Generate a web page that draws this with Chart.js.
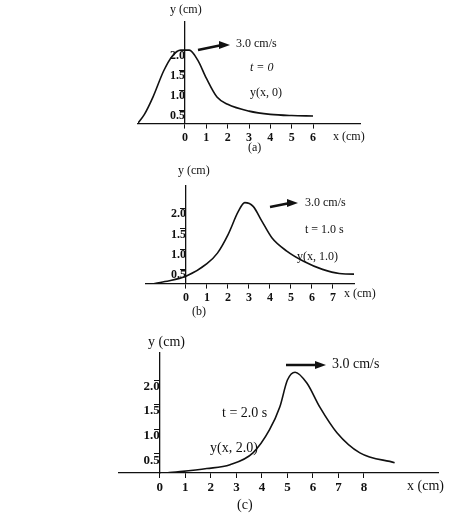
<!DOCTYPE html>
<html><head><meta charset="utf-8">
<script src="https://cdn.jsdelivr.net/npm/chart.js@4.4.0/dist/chart.umd.min.js"></script>
<style>
body{margin:0;background:#fff;width:474px;height:523px;position:relative;overflow:hidden}
canvas{position:absolute;left:0}
</style></head><body>
<canvas id="ca" style="top:0" width="474" height="160"></canvas>
<canvas id="cb" style="top:160px" width="474" height="160"></canvas>
<canvas id="cc" style="top:320px" width="474" height="203"></canvas>
<script>
// values
const pulseA = [[-2.25,0.15],[-1.9,0.4],[-1.5,0.83],[-1.0,1.48],[-0.6,1.85],[-0.2,2.0],[0.2,2.0],[0.6,1.75],[1.0,1.3],[1.5,0.83],[2.0,0.65],[3,0.48],[4,0.4],[5,0.37],[6,0.36]];
const pulseB = [[-1.8,0.12],[-1,0.2],[0,0.33],[1,0.64],[1.5,0.9],[2,1.35],[2.5,1.93],[2.8,2.14],[3.2,2.05],[3.6,1.7],[4.1,1.27],[4.8,0.95],[5.6,0.7],[6.5,0.5],[7.3,0.4],[8.5,0.38]];
const pulseC = [[0.27,0.11],[1.84,0.2],[2.75,0.28],[3.65,0.52],[4.3,0.99],[4.7,1.45],[5.0,2.0],[5.3,2.16],[5.76,1.94],[6.27,1.45],[6.94,0.93],[7.84,0.52],[9.2,0.32]];
const yTicks = [0.5, 1.0, 1.5, 2.0];
const xTicksA = [0,1,2,3,4,5,6];
const xTicksB = [0,1,2,3,4,5,6,7];
const xTicksC = [0,1,2,3,4,5,6,7,8];

const SERIF = '12px "Liberation Serif", serif';

function makePanel(id, pts, xTicks, cfg) {
  const textPlugin = {
    id: 'notes',
    afterDraw(chart) {
      const c = chart.ctx;
      c.save();
      c.fillStyle = '#111';
      c.textBaseline = 'middle';
      cfg.texts.forEach(t => { c.font = t[3] || SERIF; c.fillText(t[0], t[1], t[2]); });
      const a = cfg.arrow;
      c.strokeStyle = '#111'; c.lineWidth = 2.5;
      c.beginPath(); c.moveTo(a[0], a[1]); c.lineTo(a[2] - 8, a[3]); c.stroke();
      c.beginPath(); c.moveTo(a[2], a[3]); c.lineTo(a[2] - 11, a[3] - 4); c.lineTo(a[2] - 11, a[3] + 4); c.closePath(); c.fill();
      c.restore();
    }
  };
  return new Chart(document.getElementById(id), {
    type: 'line',
    data: { datasets: [{ data: pts.map(p => ({x: p[0], y: p[1]})), borderColor: '#111', borderWidth: 1.6, pointRadius: 0, tension: 0.4, cubicInterpolationMode: 'monotone' }] },
    options: {
      responsive: false, animation: false,
      layout: { padding: cfg.pad },
      plugins: { legend: { display: false }, tooltip: { enabled: false } },
      scales: {
        x: {
          type: 'linear', position: 'bottom', min: cfg.x[0], max: cfg.x[1],
          afterBuildTicks: s => { s.ticks = xTicks.map(v => ({value: v})); },
          afterFit: s => { s.height = 22; },
          ticks: { color: '#111', font: { family: 'Liberation Serif', size: cfg.fs, weight: 'bold' }, padding: 2 },
          grid: { drawOnChartArea: false, drawTicks: true, tickLength: 5, color: '#111' },
          border: { color: '#111', width: 1.3 }
        },
        y: {
          type: 'linear', position: { x: 0 }, min: cfg.y[0], max: cfg.y[1],
          afterBuildTicks: s => { s.ticks = yTicks.map(v => ({value: v})); },
          ticks: { color: '#111', font: { family: 'Liberation Serif', size: cfg.fs, weight: 'bold' }, callback: v => v.toFixed(1), padding: 22, align: 'start' },
          grid: { drawOnChartArea: false, drawTicks: true, tickLength: 5, color: '#111' },
          border: { color: '#111', width: 1.3 }
        }
      }
    },
    plugins: [textPlugin]
  });
}

makePanel('ca', pulseA, xTicksA, {
  fs: 12, pad: { left: 138, right: 114, top: 19, bottom: 13 }, x: [-2.2, 8.2], y: [0.17, 2.7],
  texts: [['y (cm)', 170, 10], ['3.0 cm/s', 236, 44], ['t = 0', 250, 68, 'italic ' + SERIF], ['y(x, 0)', 250, 93], ['x (cm)', 333, 137], ['(a)', 248, 148]],
  arrow: [198, 50, 230, 45]
});
makePanel('cb', pulseB, xTicksB, {
  fs: 12, pad: { left: 146, right: 120, top: 26, bottom: 10 }, x: [-1.9, 8.0], y: [0.15, 2.55],
  texts: [['y (cm)', 178, 11], ['3.0 cm/s', 305, 43], ['t = 1.0 s', 305, 70], ['y(x, 1.0)', 297, 97], ['x (cm)', 344, 134], ['(b)', 192, 152]],
  arrow: [270, 47, 298, 43]
});
makePanel('cc', pulseC, xTicksC, {
  fs: 13, pad: { left: 119, right: 36, top: 33, bottom: 28 }, x: [-1.6, 10.9], y: [0.11, 2.55],
  texts: [['y (cm)', 148, 22, '14px "Liberation Serif", serif'], ['3.0 cm/s', 332, 44, '14px "Liberation Serif", serif'], ['t = 2.0 s', 222, 93, '14px "Liberation Serif", serif'], ['y(x, 2.0)', 210, 128, '14px "Liberation Serif", serif'], ['x (cm)', 407, 166, '14px "Liberation Serif", serif'], ['(c)', 237, 185, '14px "Liberation Serif", serif']],
  arrow: [286, 45, 326, 45]
});
</script>
</body></html>
